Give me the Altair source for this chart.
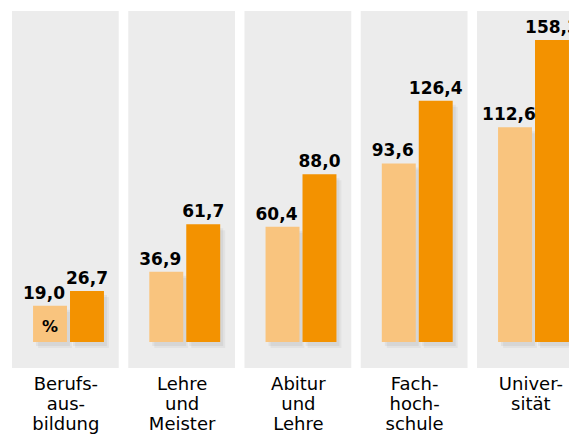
import altair as alt
import pandas as pd

categories = ["Berufsausbildung", "Lehre und Meister", "Abitur und Lehre", "Fachhochschule", "Universität"]
label_lines = [["Berufs-", "aus-", "bildung"], ["Lehre", "und", "Meister"], ["Abitur", "und", "Lehre"],
               ["Fach-", "hoch-", "schule"], ["Univer-", "sität"]]
values_a = [19.0, 36.9, 60.4, 93.6, 112.6]
values_b = [26.7, 61.7, 88.0, 126.4, 158.3]
unit_label = "%"

# layout fractions of one panel step
PANEL_W = 0.9183
A0, A1 = 0.181, 0.473
B0, B1 = 0.499, 0.791
CENTER = 0.459
H = 357
W = 557
X_MAX = W / 116.25

df = pd.DataFrame({
    "cat": categories,
    "i": list(range(len(categories))),
    "va": values_a,
    "vb": values_b,
    "la": [f"{v:.1f}".replace(".", ",") for v in values_a],
    "lb": [f"{v:.1f}".replace(".", ",") for v in values_b],
})
unit_df = pd.DataFrame({"i": [0], "va": [values_a[0]], "txt": [unit_label]})

lines_js = "[" + ",".join("[" + ",".join(f"'{s}'" for s in l) + "]" for l in label_lines) + "]"

x_scale = alt.Scale(domain=[0, X_MAX], nice=False, zero=False, clamp=True)
y_scale = alt.Scale(domain=[-13.6, 173.5], nice=False, zero=False)

x_axis = alt.Axis(title=None, domain=False, ticks=False, grid=False,
                  values=[i + CENTER for i in range(len(categories))],
                  labelExpr=f"{lines_js}[floor(datum.value)]",
                  labelFont="DejaVu Sans", labelFontSize=18, labelColor="#000000",
                  labelPadding=7, labelLineHeight=20, labelAngle=0, labelFlush=False,
                  labelOverlap=False, labelBound=False)

base = alt.Chart(df).transform_calculate(
    p0="datum.i", p1=f"datum.i + {PANEL_W}",
    a0=f"datum.i + {A0}", a1=f"datum.i + {A1}", am=f"datum.i + {(A0 + A1) / 2}",
    b0=f"datum.i + {B0}", b1=f"datum.i + {B1}", bm=f"datum.i + {(B0 + B1) / 2}",
    zero="0",
)

panels = base.mark_rect(color="#ececec", clip=True).encode(
    x=alt.X("p0:Q", scale=x_scale, axis=x_axis), x2="p1:Q",
    y=alt.Y("zero:Q", scale=y_scale, axis=None), y2=alt.value(H),
).transform_calculate(top="0")

panels = base.mark_rect(color="#ececec", clip=True).encode(
    x=alt.X("p0:Q", scale=x_scale, axis=x_axis), x2="p1:Q",
    y=alt.value(0), y2=alt.value(H),
)

def bar_layer(c0, c1, val, color, **kw):
    return base.mark_rect(color=color, clip=True, **kw).encode(
        x=alt.X(f"{c0}:Q", scale=x_scale, axis=x_axis), x2=f"{c1}:Q",
        y=alt.Y(f"{val}:Q", scale=y_scale, axis=None), y2="zero:Q",
    )

layers = [panels]
for (c0, c1, val) in [("a0", "a1", "va"), ("b0", "b1", "vb")]:
    layers.append(bar_layer(c0, c1, val, "#000000", opacity=0.04, xOffset=5, x2Offset=5, yOffset=6, y2Offset=6))
    layers.append(bar_layer(c0, c1, val, "#000000", opacity=0.05, xOffset=3, x2Offset=3, yOffset=4, y2Offset=4))
layers.append(bar_layer("a0", "a1", "va", "#f9c47e"))
layers.append(bar_layer("b0", "b1", "vb", "#f39200"))

labels_a = base.mark_text(
    font="DejaVu Sans", fontWeight="bold", fontSize=17, baseline="alphabetic", dy=-7, dx=-6,
    color="#000000", clip=True
).encode(x=alt.X("am:Q", scale=x_scale, axis=x_axis),
         y=alt.Y("va:Q", scale=y_scale, axis=None), text="la:N")

labels_b = base.mark_text(
    font="DejaVu Sans", fontWeight="bold", fontSize=17, baseline="alphabetic", dy=-7,
    color="#000000", clip=True
).encode(x=alt.X("bm:Q", scale=x_scale, axis=x_axis),
         y=alt.Y("vb:Q", scale=y_scale, axis=None), text="lb:N")

unit = alt.Chart(unit_df).transform_calculate(
    mid="datum.va / 2", am=f"datum.i + {(A0 + A1) / 2}"
).mark_text(
    font="DejaVu Sans", fontWeight="bold", fontSize=16, baseline="middle", dy=3, color="#000000"
).encode(
    x=alt.X("am:Q", scale=x_scale, axis=x_axis),
    y=alt.Y("mid:Q", scale=y_scale, axis=None),
    text="txt:N",
)

layers += [labels_a, labels_b, unit]

chart = alt.layer(*layers).properties(
    width=W, height=H,
    autosize=alt.AutoSizeParams(type="none"),
    padding={"left": 4, "top": 3, "right": 0, "bottom": 67},
).configure_view(stroke=None)

chart.save("out.html", embed_options={"renderer": "svg", "actions": False})
